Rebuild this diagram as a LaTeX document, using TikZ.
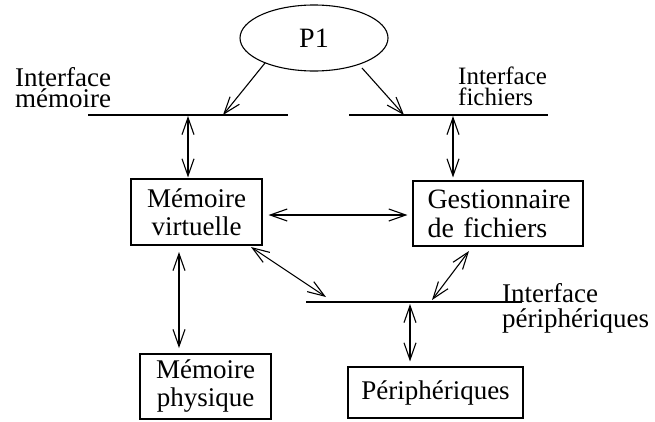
\documentclass[tikz,border=0pt]{standalone}
\usepackage{fontspec}
\setmainfont{Liberation Serif}
\usetikzlibrary{arrows.meta,shapes.geometric}

\begin{document}
\begin{tikzpicture}[x=1pt,y=-1pt,
  txt/.style={font=\fontsize{27}{28}\selectfont, inner sep=0pt},
  box/.style={draw, line width=1.1pt, txt, align=center},
  lbl/.style={inner sep=0pt, align=left, anchor=base west},
  bus/.style={line width=1.1pt},
  tip/.tip={Straight Barb[length=17pt,width=12pt]},
  link/.style={line width=1.1pt, tip-tip},
  oneway/.style={line width=1.1pt, -tip}]
\useasboundingbox (0,0) rectangle (655,421);

% process
\node[ellipse, draw, line width=1.1pt, minimum width=148pt, minimum height=66pt,
      inner sep=0pt, font=\fontsize{28}{28}\selectfont] (P1) at (314,38) {P1};

% interface buses
\coordinate (lmL) at (88,115);  \coordinate (lmR) at (288,115);
\coordinate (lfL) at (349,115); \coordinate (lfR) at (548,115);
\coordinate (lpL) at (306,302); \coordinate (lpR) at (522,302);
\draw[bus] (lmL) -- (lmR);
\draw[bus] (lfL) -- (lfR);
\draw[bus] (lpL) -- (lpR);

% bus labels (anchored on the baseline of their last line)
\node[lbl, font=\fontsize{27}{21}\selectfont] (tm) at (15,107) {Interface\\mémoire};
\node[lbl, font=\fontsize{25}{21}\selectfont] (tf) at (458,105) {Interface\\fichiers};
\node[lbl, font=\fontsize{27}{25}\selectfont] (tp) at (502,327) {Interface\\périphériques};

% components
\node[box, minimum width=131pt, minimum height=66pt] (mv) at (196.5,212) {Mémoire\\virtuelle};
\node[box, minimum width=170pt, minimum height=65pt, align=left,
      text width=141pt, font=\fontsize{28}{29}\selectfont] (gf) at (498,213.5) {Gestionnaire\\de fichiers};
\node[box, minimum width=131pt, minimum height=65pt] (mp) at (205.5,386.5) {Mémoire\\physique};
\node[box, minimum width=175pt, minimum height=51pt] (per) at (435.5,392.5) {Périphériques};

% attachment points
\coordinate (p1a) at (265,63);  \coordinate (lmA) at (223,115);
\coordinate (p1b) at (362,68);  \coordinate (lfA) at (404,115);
\coordinate (lmB) at (188,116);
\coordinate (lfB) at (453,116);
\coordinate (mvD) at (251,247); \coordinate (lpA) at (326,297);
\coordinate (gfD) at (469,251); \coordinate (lpB) at (432,300);
\coordinate (lpC) at (410,304);
\coordinate (mvS) at (179,252); \coordinate (mpN) at (179,348);

% connectors
\draw[oneway] (p1a) -- (lmA);
\draw[oneway] (p1b) -- (lfA);
\draw[link] (lmB) -- ([yshift=1pt]lmB |- mv.north);
\draw[link] (lfB) -- ([yshift=3pt]lfB |- gf.north);
\draw[link] ([xshift=6pt,yshift=-3pt]mv.east) -- ([xshift=-5pt,yshift=-3pt]mv.east -| gf.west);
\draw[link] (mvS) -- (mpN);
\draw[link] (mvD) -- (lpA);
\draw[link] (gfD) -- (lpB);
\draw[link] (lpC) -- ([yshift=5pt]lpC |- per.north);
\end{tikzpicture}
\end{document}
